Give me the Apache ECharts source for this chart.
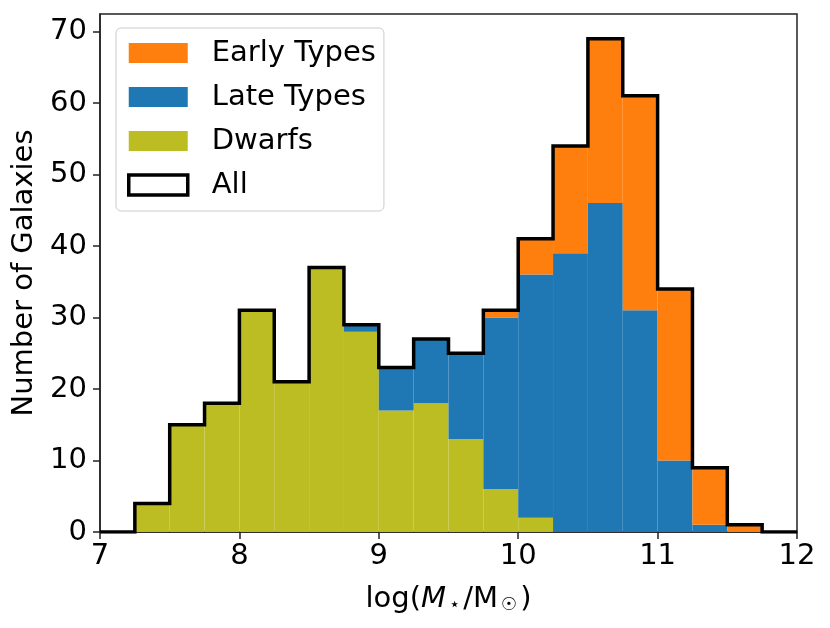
<!DOCTYPE html>
<html>
<head>
<meta charset="utf-8">
<script src="https://cdn.jsdelivr.net/npm/echarts@6/dist/echarts.min.js"></script>
<style>html,body{margin:0;padding:0;background:#fff}#c{width:830px;height:628px}</style>
</head>
<body>
<div id="c"></div>
<script>
// Bin left edges (width 0.25) from 7.00 to 11.75
const binLeft = [7.00,7.25,7.50,7.75,8.00,8.25,8.50,8.75,9.00,9.25,9.50,9.75,10.00,10.25,10.50,10.75,11.00,11.25,11.50,11.75];
const binWidth = 0.25;
const dwarfs = [0,4,15,18,31,21,37,28,17,18,13,6,2,0,0,0,0,0,0,0];
const lateTypes = [0,0,0,0,0,0,0,1,6,9,12,24,34,39,46,31,10,1,0,0];
const earlyTypes = [0,0,0,0,0,0,0,0,0,0,0,1,5,15,23,30,24,8,1,0];
const xTicks = [7,8,9,10,11,12];
const yTicks = [0,10,20,30,40,50,60,70];

const allCounts = binLeft.map((_, i) => dwarfs[i] + lateTypes[i] + earlyTypes[i]);

function rectData(vals, bases) {
  return binLeft.map((x, i) => [x, x + binWidth, bases[i], bases[i] + vals[i]]);
}
const zeros = binLeft.map(() => 0);
const lateBase = dwarfs.slice();
const earlyBase = binLeft.map((_, i) => dwarfs[i] + lateTypes[i]);

function renderRect(params, api) {
  const x0 = api.value(0), x1 = api.value(1), y0 = api.value(2), y1 = api.value(3);
  if (y1 <= y0) return null;
  const p0 = api.coord([x0, y0]);
  const p1 = api.coord([x1, y1]);
  return {
    type: 'rect',
    shape: { x: p0[0], y: p1[1], width: p1[0] - p0[0], height: p0[1] - p1[1] },
    style: api.style()
  };
}

const stepData = binLeft.map((x, i) => [x, allCounts[i]]);
stepData.push([12, 0]);

const chart = echarts.init(document.getElementById('c'), null, { renderer: 'canvas' });
const font = 'DejaVu Sans';
const FS = 29;
chart.setOption({
  animation: false,
  textStyle: { fontFamily: font },
  grid: { left: 100, right: 33, top: 14, bottom: 96, show: true, borderColor: '#222', borderWidth: 1.5, backgroundColor: 'transparent' },
  legend: {
    orient: 'vertical',
    left: 116, top: 28,
    padding: [10, 8, 11, 11],
    itemGap: 14,
    itemWidth: 59, itemHeight: 20,
    borderColor: '#cccccc', borderWidth: 1, borderRadius: 5,
    backgroundColor: 'rgba(255,255,255,0.8)',
    textStyle: { fontFamily: font, fontSize: FS, lineHeight: 30, color: '#000', padding: [0, 0, 0, 19] },
    data: [
      { name: 'Early Types', icon: 'rect' },
      { name: 'Late Types', icon: 'rect' },
      { name: 'Dwarfs', icon: 'rect' },
      { name: 'All', icon: 'rect', itemStyle: { color: '#ffffff', borderColor: '#000', borderWidth: 3.5 } }
    ]
  },
  xAxis: {
    type: 'value', min: 7, max: 12, interval: 1,
    name: '{n|log(}{i|M}{s|⋆}{n|/M}{s|☉}{n|)}',
    nameLocation: 'middle', nameGap: 52,
    nameTextStyle: {
      fontFamily: font, fontSize: FS, color: '#000',
      rich: {
        n: { fontFamily: font, fontSize: FS, color: '#000' },
        i: { fontFamily: font, fontSize: FS, fontStyle: 'italic', color: '#000' },
        s: { fontFamily: font, fontSize: 18, color: '#000', padding: [12, 3, 0, 3] }
      }
    },
    axisLine: { show: true, onZero: false, lineStyle: { color: '#222', width: 1.5 } },
    axisTick: { show: true, length: 7, lineStyle: { color: '#222', width: 1.5 } },
    axisLabel: { fontFamily: font, fontSize: FS, color: '#000', margin: 10,
      formatter: v => xTicks.includes(v) ? String(v) : '' },
    splitLine: { show: false }
  },
  yAxis: {
    type: 'value', min: 0, max: 72.45, interval: 10,
    name: 'Number of Galaxies',
    nameLocation: 'middle', nameGap: 60,
    nameTextStyle: { fontFamily: font, fontSize: FS, color: '#000' },
    axisLine: { show: true, lineStyle: { color: '#222', width: 1.5 } },
    axisTick: { show: true, length: 7, lineStyle: { color: '#222', width: 1.5 } },
    axisLabel: { fontFamily: font, fontSize: FS, color: '#000', margin: 13,
      formatter: v => yTicks.includes(v) ? String(v) : '', showMaxLabel: false },
    splitLine: { show: false }
  },
  series: [
    { name: 'Dwarfs', type: 'custom', renderItem: renderRect, encode: { x: [0, 1], y: [2, 3] },
      itemStyle: { color: '#bcbd22' }, data: rectData(dwarfs, zeros), z: 2 },
    { name: 'Late Types', type: 'custom', renderItem: renderRect, encode: { x: [0, 1], y: [2, 3] },
      itemStyle: { color: '#1f77b4' }, data: rectData(lateTypes, lateBase), z: 2 },
    { name: 'Early Types', type: 'custom', renderItem: renderRect, encode: { x: [0, 1], y: [2, 3] },
      itemStyle: { color: '#ff7f0e' }, data: rectData(earlyTypes, earlyBase), z: 2 },
    { name: 'All', type: 'line', step: 'end', data: stepData, showSymbol: false, symbol: 'none',
      lineStyle: { color: '#000', width: 3.5, join: 'miter' }, itemStyle: { color: '#fff' }, z: 5 }
  ]
});
</script>
</body>
</html>
